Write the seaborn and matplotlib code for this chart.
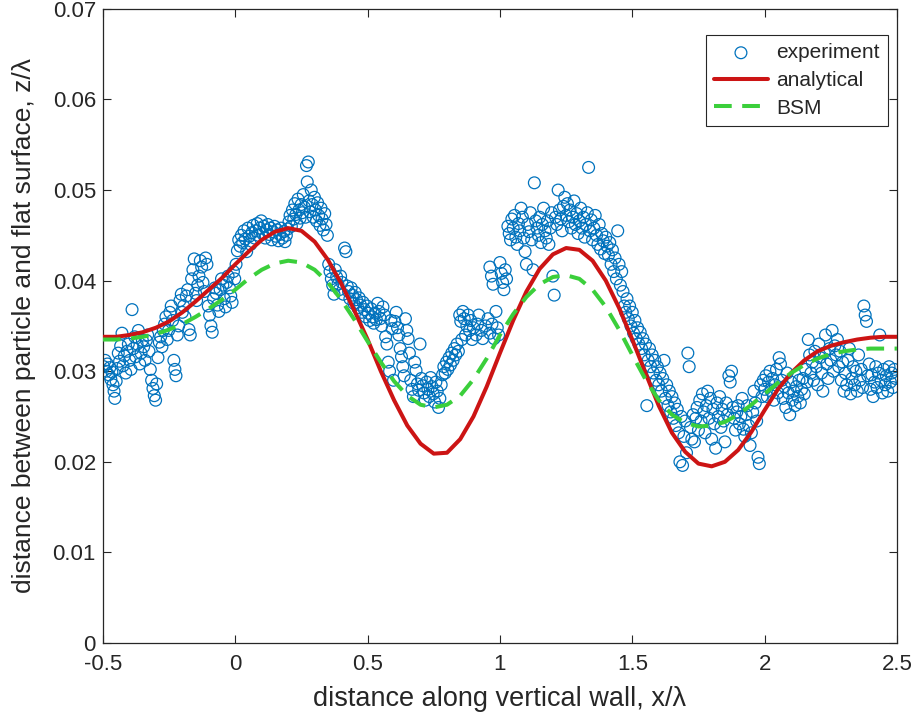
import matplotlib
matplotlib.use("Agg")
import matplotlib.pyplot as plt
import seaborn as sns
import pandas as pd


# model curves, sampled every 0.05 in x/lambda
curve_x = [-0.5, -0.45, -0.4, -0.35, -0.3, -0.25, -0.2, -0.15, -0.1, -0.05,
           0.0, 0.05, 0.1, 0.15, 0.2, 0.25, 0.3, 0.35, 0.4, 0.45,
           0.5, 0.55, 0.6, 0.65, 0.7, 0.75, 0.8, 0.85, 0.9, 0.95,
           1.0, 1.05, 1.1, 1.15, 1.2, 1.25, 1.3, 1.35, 1.4, 1.45,
           1.5, 1.55, 1.6, 1.65, 1.7, 1.75, 1.8, 1.85, 1.9, 1.95,
           2.0, 2.05, 2.1, 2.15, 2.2, 2.25, 2.3, 2.35, 2.4, 2.45, 2.5]

analytical_z = [0.0338, 0.0338, 0.0340, 0.0343, 0.0348, 0.0355, 0.0365, 0.0377, 0.0390, 0.0403,
                0.0418, 0.0432, 0.0445, 0.0454, 0.0458, 0.0455, 0.0443, 0.0423, 0.0397, 0.0367,
                0.0335, 0.0300, 0.0268, 0.0240, 0.0220, 0.0209, 0.0210, 0.0225, 0.0250, 0.0283,
                0.0320, 0.0356, 0.0388, 0.0413, 0.0429, 0.0436, 0.0434, 0.0422, 0.0400, 0.0370,
                0.0335, 0.0298, 0.0262, 0.0232, 0.0211, 0.0198, 0.0195, 0.0200, 0.0213, 0.0233,
                0.0257, 0.0280, 0.0298, 0.0312, 0.0322, 0.0328, 0.0332, 0.0335, 0.0337, 0.0338, 0.0338]

bsm_z = [0.0335, 0.0335, 0.0336, 0.0338, 0.0341, 0.0346, 0.0352, 0.0360, 0.0369, 0.0379,
         0.0390, 0.0402, 0.0412, 0.0419, 0.0422, 0.0420, 0.0412, 0.0398, 0.0379, 0.0357,
         0.0333, 0.0310, 0.0289, 0.0273, 0.0263, 0.0260, 0.0263, 0.0273, 0.0291, 0.0314,
         0.0340, 0.0363, 0.0382, 0.0396, 0.0404, 0.0406, 0.0402, 0.0390, 0.0371, 0.0346,
         0.0318, 0.0291, 0.0268, 0.0252, 0.0243, 0.0239, 0.0240, 0.0244, 0.0252, 0.0263,
         0.0275, 0.0287, 0.0298, 0.0307, 0.0314, 0.0319, 0.0322, 0.0324, 0.0325, 0.0325, 0.0325]

# measured positions (x/lambda, z/lambda)
experiment_points = [
    (-0.497, 0.0305), (-0.492, 0.0312), (-0.488, 0.0300), (-0.483, 0.0308), (-0.478, 0.0296), (-0.474, 0.0304),
    (-0.470, 0.0291), (-0.466, 0.0299), (-0.462, 0.0285), (-0.458, 0.0278), (-0.455, 0.0270), (-0.450, 0.0289),
    (-0.446, 0.0303), (-0.442, 0.0320), (-0.437, 0.0311), (-0.433, 0.0328), (-0.428, 0.0342), (-0.424, 0.0306),
    (-0.419, 0.0317), (-0.414, 0.0298), (-0.409, 0.0322), (-0.404, 0.0330), (-0.399, 0.0312), (-0.394, 0.0302),
    (-0.390, 0.0368), (-0.385, 0.0325), (-0.380, 0.0338), (-0.376, 0.0316), (-0.371, 0.0330), (-0.366, 0.0345),
    (-0.361, 0.0308), (-0.356, 0.0320), (-0.351, 0.0334),
    (-0.346, 0.0327), (-0.341, 0.0312), (-0.336, 0.0334), (-0.331, 0.0340), (-0.326, 0.0322),
    (-0.321, 0.0302), (-0.316, 0.0290), (-0.311, 0.0281), (-0.306, 0.0273), (-0.301, 0.0268), (-0.297, 0.0286),
    (-0.292, 0.0315), (-0.287, 0.0332), (-0.282, 0.0338), (-0.277, 0.0327), (-0.272, 0.0345), (-0.267, 0.0352),
    (-0.262, 0.0360), (-0.257, 0.0335), (-0.252, 0.0345), (-0.247, 0.0365), (-0.242, 0.0372), (-0.237, 0.0356),
    (-0.232, 0.0312), (-0.228, 0.0302), (-0.224, 0.0295), (-0.219, 0.0340), (-0.214, 0.0350), (-0.209, 0.0378),
    (-0.204, 0.0385), (-0.200, 0.0365),
    (-0.195, 0.0372), (-0.190, 0.0360), (-0.185, 0.0383), (-0.180, 0.0390), (-0.175, 0.0346), (-0.170, 0.0340),
    (-0.165, 0.0402), (-0.160, 0.0412), (-0.155, 0.0424), (-0.150, 0.0386), (-0.146, 0.0378), (-0.142, 0.0395),
    (-0.137, 0.0405), (-0.132, 0.0422), (-0.127, 0.0415), (-0.122, 0.0398), (-0.117, 0.0388), (-0.112, 0.0425),
    (-0.107, 0.0418), (-0.102, 0.0372), (-0.097, 0.0362), (-0.092, 0.0350), (-0.087, 0.0343), (-0.082, 0.0380),
    (-0.077, 0.0392), (-0.072, 0.0386), (-0.067, 0.0373), (-0.062, 0.0366), (-0.057, 0.0390), (-0.052, 0.0402),
    (-0.047, 0.0395), (-0.042, 0.0380), (-0.037, 0.0371), (-0.032, 0.0398), (-0.027, 0.0405), (-0.022, 0.0392),
    (-0.017, 0.0383), (-0.012, 0.0376), (-0.007, 0.0410), (-0.002, 0.0402),
    (0.003, 0.0418), (0.008, 0.0433), (0.013, 0.0445), (0.018, 0.0438), (0.023, 0.0450), (0.028, 0.0442),
    (0.033, 0.0455), (0.038, 0.0446), (0.043, 0.0432), (0.048, 0.0458), (0.053, 0.0449), (0.058, 0.0440),
    (0.063, 0.0453), (0.068, 0.0461), (0.073, 0.0447), (0.078, 0.0455), (0.083, 0.0463), (0.088, 0.0450),
    (0.093, 0.0458), (0.098, 0.0466), (0.103, 0.0452), (0.108, 0.0460), (0.113, 0.0447), (0.118, 0.0456),
    (0.123, 0.0462), (0.128, 0.0451), (0.133, 0.0458), (0.138, 0.0445), (0.143, 0.0454), (0.148, 0.0460),
    (0.153, 0.0449), (0.158, 0.0456), (0.163, 0.0444), (0.168, 0.0451), (0.173, 0.0458), (0.178, 0.0447),
    (0.183, 0.0454), (0.188, 0.0443), (0.193, 0.0450), (0.198, 0.0457),
    (0.203, 0.0465), (0.207, 0.0472), (0.212, 0.0460), (0.216, 0.0478), (0.221, 0.0468), (0.225, 0.0485),
    (0.229, 0.0473), (0.233, 0.0463), (0.237, 0.0490), (0.241, 0.0478), (0.245, 0.0469), (0.249, 0.0484),
    (0.253, 0.0475), (0.257, 0.0495), (0.261, 0.0481), (0.265, 0.0470), (0.269, 0.0527), (0.272, 0.0509),
    (0.276, 0.0531), (0.279, 0.0488), (0.283, 0.0476), (0.287, 0.0500), (0.291, 0.0484), (0.295, 0.0470),
    (0.299, 0.0492), (0.303, 0.0478), (0.307, 0.0466), (0.311, 0.0486), (0.315, 0.0472), (0.320, 0.0461),
    (0.324, 0.0480), (0.328, 0.0468), (0.333, 0.0456), (0.338, 0.0474), (0.343, 0.0462), (0.348, 0.0450),
    (0.353, 0.0418), (0.358, 0.0410), (0.363, 0.0402), (0.368, 0.0395), (0.373, 0.0385), (0.378, 0.0412),
    (0.383, 0.0404), (0.388, 0.0396), (0.393, 0.0390), (0.398, 0.0405), (0.403, 0.0398), (0.408, 0.0385),
    (0.413, 0.0436), (0.418, 0.0432), (0.423, 0.0394), (0.428, 0.0388), (0.433, 0.0380), (0.438, 0.0392),
    (0.443, 0.0384), (0.448, 0.0375), (0.453, 0.0387), (0.458, 0.0379), (0.463, 0.0370), (0.468, 0.0381),
    (0.473, 0.0373), (0.478, 0.0365), (0.483, 0.0376), (0.488, 0.0368), (0.493, 0.0360), (0.498, 0.0372),
    (0.503, 0.0364), (0.508, 0.0356), (0.513, 0.0369), (0.518, 0.0360), (0.523, 0.0353), (0.528, 0.0364),
    (0.533, 0.0357), (0.538, 0.0375), (0.543, 0.0366), (0.548, 0.0358),
    (0.553, 0.0350), (0.558, 0.0371), (0.563, 0.0362), (0.568, 0.0338), (0.573, 0.0330), (0.578, 0.0310),
    (0.583, 0.0300), (0.588, 0.0356), (0.593, 0.0347), (0.598, 0.0290), (0.603, 0.0355), (0.608, 0.0365),
    (0.613, 0.0348), (0.618, 0.0340), (0.623, 0.0325), (0.628, 0.0316), (0.633, 0.0305), (0.638, 0.0295),
    (0.643, 0.0358), (0.648, 0.0345), (0.653, 0.0336), (0.658, 0.0320), (0.663, 0.0290), (0.668, 0.0280),
    (0.673, 0.0272), (0.678, 0.0310), (0.683, 0.0301), (0.688, 0.0286), (0.693, 0.0279), (0.698, 0.0330),
    (0.703, 0.0292), (0.708, 0.0284), (0.713, 0.0276), (0.718, 0.0268), (0.723, 0.0288), (0.728, 0.0280),
    (0.733, 0.0272), (0.738, 0.0293), (0.743, 0.0283), (0.748, 0.0275), (0.753, 0.0266), (0.758, 0.0288),
    (0.763, 0.0278), (0.768, 0.0260), (0.773, 0.0270), (0.778, 0.0285), (0.783, 0.0296), (0.788, 0.0305),
    (0.793, 0.0298),
    (0.798, 0.0310), (0.803, 0.0302), (0.808, 0.0315), (0.813, 0.0307), (0.818, 0.0320), (0.823, 0.0312),
    (0.828, 0.0325), (0.833, 0.0318), (0.838, 0.0330), (0.843, 0.0322), (0.848, 0.0362), (0.852, 0.0355),
    (0.856, 0.0335), (0.860, 0.0366), (0.865, 0.0358), (0.870, 0.0340), (0.875, 0.0350), (0.880, 0.0362),
    (0.885, 0.0345), (0.890, 0.0356), (0.895, 0.0335), (0.900, 0.0348), (0.910, 0.0340), (0.915, 0.0352),
    (0.920, 0.0362), (0.930, 0.0345), (0.935, 0.0336), (0.945, 0.0350), (0.955, 0.0358), (0.962, 0.0342),
    (0.970, 0.0352), (0.978, 0.0336), (0.985, 0.0366), (0.990, 0.0348), (0.995, 0.0340),
    (0.962, 0.0415), (0.968, 0.0405), (0.974, 0.0396), (1.000, 0.0420), (1.005, 0.0408), (1.010, 0.0398),
    (1.015, 0.0390), (1.020, 0.0412), (1.025, 0.0402), (1.030, 0.0460), (1.035, 0.0452), (1.040, 0.0445),
    (1.045, 0.0468), (1.050, 0.0458), (1.055, 0.0472), (1.060, 0.0448), (1.065, 0.0440), (1.070, 0.0463),
    (1.075, 0.0455), (1.080, 0.0480), (1.085, 0.0470), (1.090, 0.0447), (1.095, 0.0432), (1.100, 0.0418),
    (1.105, 0.0462), (1.110, 0.0454), (1.115, 0.0475), (1.120, 0.0445), (1.125, 0.0412), (1.130, 0.0508),
    (1.135, 0.0466), (1.140, 0.0458), (1.145, 0.0450), (1.150, 0.0470), (1.155, 0.0442), (1.160, 0.0462),
    (1.165, 0.0480), (1.170, 0.0455), (1.175, 0.0447), (1.180, 0.0466), (1.185, 0.0440), (1.190, 0.0458),
    (1.195, 0.0475),
    (1.200, 0.0405), (1.205, 0.0384), (1.210, 0.0470), (1.215, 0.0462), (1.220, 0.0500), (1.225, 0.0478),
    (1.230, 0.0468), (1.235, 0.0455), (1.240, 0.0482), (1.245, 0.0492), (1.250, 0.0472), (1.255, 0.0485),
    (1.260, 0.0465), (1.265, 0.0478), (1.270, 0.0458), (1.275, 0.0470), (1.280, 0.0488), (1.285, 0.0462),
    (1.290, 0.0474), (1.295, 0.0452), (1.300, 0.0466), (1.305, 0.0480), (1.310, 0.0458), (1.315, 0.0470),
    (1.320, 0.0448), (1.325, 0.0462), (1.330, 0.0475), (1.335, 0.0525), (1.340, 0.0455), (1.345, 0.0467),
    (1.350, 0.0445), (1.355, 0.0458), (1.360, 0.0472), (1.365, 0.0450), (1.370, 0.0440), (1.375, 0.0462),
    (1.380, 0.0435), (1.385, 0.0452), (1.390, 0.0444), (1.395, 0.0430),
    (1.400, 0.0448), (1.405, 0.0438), (1.410, 0.0428), (1.415, 0.0442), (1.420, 0.0418), (1.425, 0.0434),
    (1.430, 0.0410), (1.435, 0.0425), (1.440, 0.0402), (1.445, 0.0455), (1.450, 0.0418), (1.455, 0.0395),
    (1.460, 0.0410), (1.465, 0.0388), (1.470, 0.0372), (1.475, 0.0365), (1.480, 0.0380), (1.485, 0.0358),
    (1.490, 0.0372), (1.495, 0.0350), (1.500, 0.0365), (1.505, 0.0342), (1.510, 0.0356), (1.515, 0.0336),
    (1.520, 0.0348), (1.525, 0.0330), (1.530, 0.0343), (1.535, 0.0325), (1.540, 0.0336), (1.545, 0.0318),
    (1.550, 0.0330), (1.555, 0.0262), (1.560, 0.0312), (1.565, 0.0325), (1.570, 0.0305), (1.575, 0.0318),
    (1.580, 0.0298), (1.585, 0.0312), (1.590, 0.0290), (1.595, 0.0305),
    (1.600, 0.0285), (1.605, 0.0298), (1.610, 0.0278), (1.615, 0.0292), (1.620, 0.0312), (1.625, 0.0270),
    (1.630, 0.0285), (1.635, 0.0262), (1.640, 0.0278), (1.645, 0.0255), (1.650, 0.0272), (1.655, 0.0248),
    (1.660, 0.0265), (1.665, 0.0240), (1.670, 0.0258), (1.675, 0.0232), (1.680, 0.0200), (1.685, 0.0250),
    (1.690, 0.0196), (1.695, 0.0228), (1.700, 0.0245), (1.705, 0.0210), (1.710, 0.0320), (1.715, 0.0305),
    (1.720, 0.0238), (1.725, 0.0225), (1.730, 0.0252), (1.735, 0.0222), (1.740, 0.0248), (1.745, 0.0260),
    (1.750, 0.0235), (1.755, 0.0268), (1.760, 0.0245), (1.765, 0.0275), (1.770, 0.0255), (1.775, 0.0232),
    (1.780, 0.0262), (1.785, 0.0278), (1.790, 0.0248), (1.795, 0.0270),
    (1.800, 0.0225), (1.805, 0.0258), (1.810, 0.0242), (1.815, 0.0215), (1.820, 0.0265), (1.825, 0.0250),
    (1.830, 0.0272), (1.835, 0.0238), (1.840, 0.0258), (1.845, 0.0245), (1.850, 0.0222), (1.855, 0.0265),
    (1.860, 0.0252), (1.865, 0.0295), (1.870, 0.0288), (1.875, 0.0300), (1.880, 0.0260), (1.885, 0.0248),
    (1.890, 0.0235), (1.895, 0.0255), (1.900, 0.0262), (1.905, 0.0242), (1.910, 0.0250), (1.915, 0.0270),
    (1.920, 0.0236), (1.925, 0.0228), (1.930, 0.0252), (1.935, 0.0262), (1.940, 0.0240), (1.945, 0.0218),
    (1.950, 0.0232), (1.955, 0.0255), (1.960, 0.0278), (1.965, 0.0265), (1.970, 0.0245), (1.975, 0.0205),
    (1.980, 0.0198), (1.985, 0.0285), (1.990, 0.0272), (1.995, 0.0290),
    (2.000, 0.0280), (2.005, 0.0295), (2.010, 0.0272), (2.015, 0.0288), (2.020, 0.0300), (2.025, 0.0278),
    (2.030, 0.0292), (2.035, 0.0268), (2.040, 0.0285), (2.045, 0.0302), (2.050, 0.0276), (2.055, 0.0315),
    (2.060, 0.0308), (2.065, 0.0290), (2.070, 0.0270), (2.075, 0.0283), (2.080, 0.0260), (2.085, 0.0298),
    (2.090, 0.0276), (2.095, 0.0252), (2.100, 0.0288), (2.105, 0.0268), (2.110, 0.0278), (2.115, 0.0262),
    (2.120, 0.0283), (2.125, 0.0272), (2.130, 0.0290), (2.135, 0.0265), (2.140, 0.0280), (2.145, 0.0292),
    (2.150, 0.0275), (2.155, 0.0302), (2.160, 0.0288), (2.165, 0.0335), (2.170, 0.0318), (2.175, 0.0298),
    (2.180, 0.0310), (2.185, 0.0290), (2.190, 0.0322), (2.195, 0.0305), (2.200, 0.0285), (2.205, 0.0330),
    (2.210, 0.0315), (2.215, 0.0298), (2.220, 0.0278), (2.225, 0.0320), (2.230, 0.0340), (2.235, 0.0308),
    (2.240, 0.0292), (2.245, 0.0325),
    (2.250, 0.0312), (2.255, 0.0345), (2.260, 0.0300), (2.265, 0.0328), (2.270, 0.0318), (2.275, 0.0335),
    (2.280, 0.0305), (2.285, 0.0322), (2.290, 0.0290), (2.295, 0.0310), (2.300, 0.0278), (2.305, 0.0298),
    (2.310, 0.0285), (2.315, 0.0312), (2.320, 0.0325), (2.325, 0.0275), (2.330, 0.0292), (2.335, 0.0305),
    (2.340, 0.0285), (2.345, 0.0300), (2.350, 0.0278), (2.355, 0.0318), (2.360, 0.0290), (2.365, 0.0302),
    (2.370, 0.0282), (2.375, 0.0372), (2.380, 0.0362), (2.385, 0.0355), (2.390, 0.0295), (2.395, 0.0308),
    (2.400, 0.0280), (2.405, 0.0296), (2.410, 0.0272), (2.415, 0.0288), (2.420, 0.0305), (2.425, 0.0282),
    (2.430, 0.0298), (2.435, 0.0340), (2.440, 0.0290), (2.445, 0.0276), (2.450, 0.0302), (2.455, 0.0285),
    (2.460, 0.0295), (2.465, 0.0278), (2.470, 0.0305), (2.475, 0.0288), (2.480, 0.0298), (2.485, 0.0282),
    (2.490, 0.0302), (2.495, 0.0292),
]

x_ticks = [-0.5, 0, 0.5, 1, 1.5, 2, 2.5]
x_tick_labels = ['-0.5', '0', '0.5', '1', '1.5', '2', '2.5']
y_ticks = [0, 0.01, 0.02, 0.03, 0.04, 0.05, 0.06, 0.07]
y_tick_labels = ['0', '0.01', '0.02', '0.03', '0.04', '0.05', '0.06', '0.07']

TEXT = '#262626'

sns.set_style('ticks')
plt.rcParams['font.family'] = ['Liberation Sans', 'DejaVu Sans']

exp_df = pd.DataFrame(experiment_points, columns=['x', 'z'])
curves = pd.DataFrame({'x': curve_x, 'analytical': analytical_z, 'BSM': bsm_z})

fig = plt.figure(figsize=(9.19, 7.23), dpi=100)
ax = fig.add_axes([0.112, 0.1107, 0.864, 0.877])

# seaborn defaults to white marker edges, so give the edge colour explicitly
sns.scatterplot(data=exp_df, x='x', y='z', ax=ax, marker='o', s=72,
                facecolor='none', edgecolor='#0072BD', linewidth=0.9,
                label='experiment', zorder=2)
sns.lineplot(data=curves, x='x', y='analytical', ax=ax, color='#CC1414',
             linewidth=2.9, label='analytical', zorder=3)
sns.lineplot(data=curves, x='x', y='BSM', ax=ax, color='#3BCF3B',
             linewidth=2.9, linestyle=(0, (4.4, 2.6)), label='BSM', zorder=4)

ax.set_xlim(-0.5, 2.5)
ax.set_ylim(0, 0.07)
ax.set_xticks(x_ticks)
ax.set_xticklabels(x_tick_labels)
ax.set_yticks(y_ticks)
ax.set_yticklabels(y_tick_labels)
ax.tick_params(direction='in', top=True, right=True, length=6, width=0.8,
               labelsize=16, colors=TEXT)
ax.tick_params(axis='y', pad=5)
ax.tick_params(axis='x', pad=8)
for sp in ax.spines.values():
    sp.set_color(TEXT)
    sp.set_linewidth(0.9)

ax.set_xlabel('distance along vertical wall, x/λ', fontsize=19.5, color=TEXT, labelpad=8)
ax.set_ylabel('distance between particle and flat surface, z/λ', fontsize=19, color=TEXT, labelpad=12)

leg = ax.legend(loc='upper right', bbox_to_anchor=(0.989, 0.959), borderaxespad=0,
                frameon=True, fancybox=False, framealpha=1, edgecolor=TEXT,
                fontsize=15, handlelength=2.6, handletextpad=0.4,
                labelspacing=0.42, borderpad=0.4)
leg.get_frame().set_linewidth(0.8)

fig.savefig('out.png', dpi=100)
